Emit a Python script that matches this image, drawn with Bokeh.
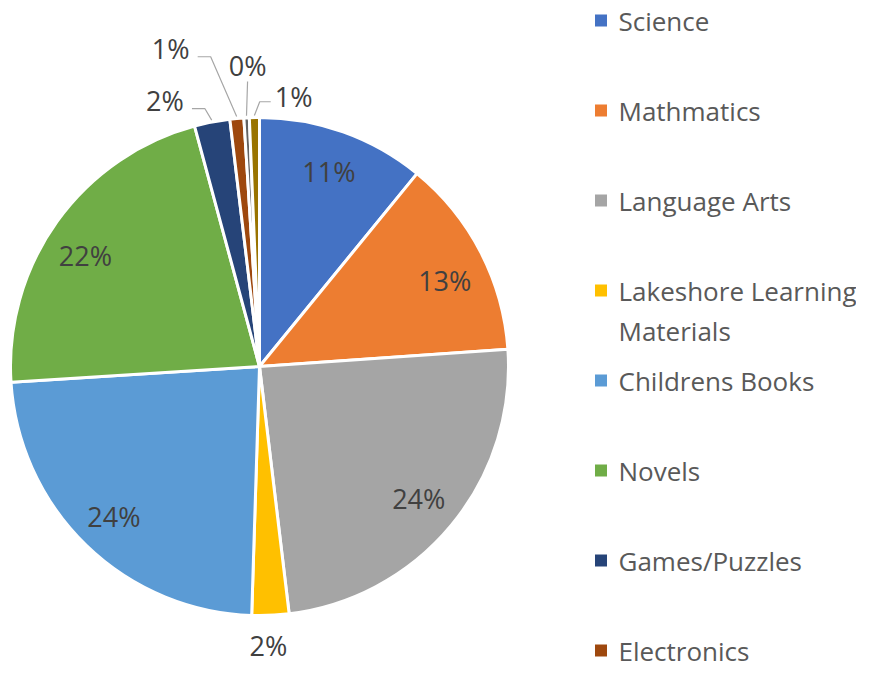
import math
from bokeh.plotting import figure
from bokeh.models import ColumnDataSource, Range1d
from bokeh.core.properties import value
from bokeh.embed import file_html
from bokeh.resources import INLINE

# ---- data ----
categories = ["Science", "Mathmatics", "Language Arts", "Lakeshore Learning\nMaterials",
              "Childrens Books", "Novels", "Games/Puzzles", "Electronics", "Other", "Misc"]
shares = [10.9, 13.0, 24.2, 2.4, 23.5, 21.8, 2.3, 0.9, 0.35, 0.65]
colors = ["#4472C4", "#ED7D31", "#A5A5A5", "#FFC000", "#5B9BD5",
          "#70AD47", "#264478", "#9E480E", "#636363", "#997300"]

# ---- layout (positions / styles) ----
W, H = 856, 669
CX, CY, R = 259, H - 366, 249
FONT = "Open Sans"
# label placement per slice: (angle offset deg, radius factor, leader line)
label_place = [(0, 0.83, False), (2.5, 0.82, False), (0, 0.83, False), (0.7, 1.12, False),
               (0, 0.84, False), (-3, 0.83, False), (-8.6, 1.133, True), (-10.4, 1.325, True),
               (0.7, 1.21, True), (8.4, 1.092, True)]

total = sum(shares)
fracs = [s / total for s in shares]
cum = [0.0]
for f in fracs:
    cum.append(cum[-1] + f)
starts = [math.pi / 2 - 2 * math.pi * cum[i + 1] for i in range(len(fracs))]
ends = [math.pi / 2 - 2 * math.pi * cum[i] for i in range(len(fracs))]

p = figure(width=W, height=H, output_backend="svg", toolbar_location=None,
           x_range=Range1d(0, W), y_range=Range1d(0, H), min_border=0)
p.axis.visible = False
p.grid.visible = False
p.outline_line_color = None

src = ColumnDataSource(dict(start=starts, end=ends, color=colors, name=categories))
p.wedge(x=CX, y=CY, radius=R, start_angle="start", end_angle="end", direction="anticlock",
        fill_color="color", line_color="white", line_width=3, source=src)

# data labels
lx, ly, lt = [], [], []
lead_xs, lead_ys = [], []
for i, f in enumerate(fracs):
    mid_deg = (cum[i] + f / 2) * 360.0
    off, rf, lead = label_place[i]
    a = math.radians(mid_deg + off)
    x = CX + R * rf * math.sin(a)
    y = CY + R * rf * math.cos(a)
    lx.append(x); ly.append(y); lt.append(f"{round(shares[i]):.0f}%")
    if lead:
        am = math.radians(mid_deg)
        ex = CX + (R + 2) * math.sin(am)
        ey = CY + (R + 2) * math.cos(am)
        if abs(x - ex) < 5:
            lead_xs.append([x, ex]); lead_ys.append([y - 16, ey])
        elif x < ex:
            lead_xs.append([x + 27, x + 40, ex]); lead_ys.append([y - 8, y - 8, ey])
        else:
            lead_xs.append([x - 23, x - 34, ex]); lead_ys.append([y - 5, y - 5, ey])

p.multi_line(xs=lead_xs, ys=lead_ys, line_color="#A6A6A6", line_width=1.2)
p.text(x=lx, y=ly, text=lt, text_font=value(FONT), text_font_size="27px",
       text_color="#404040", text_align="center", text_baseline="middle")

# legend (only the entries that fall inside the canvas)
step = 90.0
leg_y = [H - 20 - step * i for i in range(len(categories))]
vis = [i for i in range(len(categories)) if leg_y[i] > 12]
p.rect(x=600.5, y=[leg_y[i] for i in vis], width=12, height=12,
       fill_color=[colors[i] for i in vis], line_color=None)
p.text(x=618, y=[leg_y[i] + 18 for i in vis], text=[categories[i] for i in vis],
       text_font=value(FONT), text_font_size="26px", text_color="#595959",
       text_align="left", text_baseline="top", text_line_height=1.12)

open("out.html", "w").write(file_html(p, INLINE))
